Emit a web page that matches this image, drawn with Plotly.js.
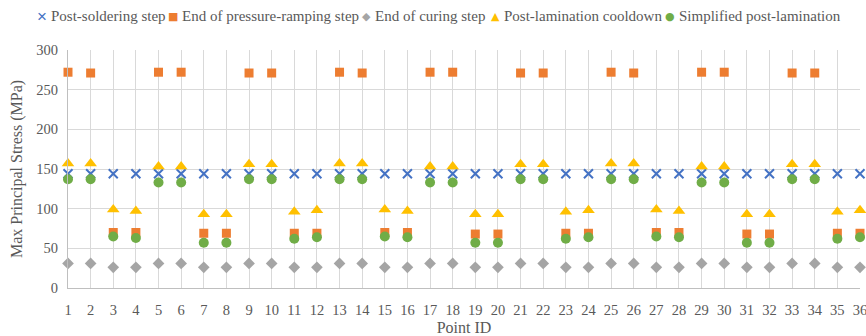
<!DOCTYPE html>
<html>
<head>
<meta charset="utf-8">
<script src="https://cdn.plot.ly/plotly-3.0.1.min.js"></script>
<style>html,body{margin:0;padding:0;background:#fff;}#chart{width:866px;height:336px;}</style>
</head>
<body>
<div id="chart"></div>
<script>
const pointIds = Array.from({length: 36}, (_, i) => i + 1);

const postSoldering = [144,144,144,144,144,144,144,144,144,144,144,144,144,144,144,144,144,144,
                       144,144,144,144,144,144,144,144,144,144,144,144,144,144,144,144,144,144];
const pressureRamping = [272,271,70,70,272,272,69,69,271,271,69,69,
                         272,271,70,70,272,272,68,68,271,271,69,69,
                         272,271,70,70,272,272,68,68,271,271,69,69];
const curing = [31,31,26,26,31,31,26,26,31,31,26,26,
                31,31,26,26,31,31,26,26,31,31,26,26,
                31,31,26,26,31,31,26,26,31,31,26,26];
const cooldown = [157,157,99,97,153,153,93,93,156,156,96,98,
                  157,157,99,97,153,153,93,93,156,156,96,98,
                  157,157,99,97,153,153,93,93,156,156,96,98];
const simplified = [137,137,65,63,133,133,57,57,137,137,62,64,
                    137,137,65,64,133,133,57,57,137,137,62,64,
                    137,137,65,64,133,133,57,57,137,137,62,64];

const seriesNames = ["Post-soldering step","End of pressure-ramping step","End of curing step",
                     "Post-lamination cooldown","Simplified post-lamination"];
const seriesColors = ['#4472C4', '#ED7D31', '#A5A5A5', '#FFC000', '#70AD47'];
const legendGlyphs = ['×', '■', '◆', '▲', '●'];

const traces = [
  {x: pointIds, y: postSoldering, name: seriesNames[0], type: 'scatter', mode: 'markers', cliponaxis: false,
   marker: {symbol: 'x-thin-open', size: 9, color: seriesColors[0], line: {color: seriesColors[0], width: 2}}},
  {x: pointIds, y: pressureRamping, name: seriesNames[1], type: 'scatter', mode: 'markers', cliponaxis: false,
   marker: {symbol: 'square', size: 9, color: seriesColors[1]}},
  {x: pointIds, y: curing, name: seriesNames[2], type: 'scatter', mode: 'markers', cliponaxis: false,
   marker: {symbol: 'diamond', size: 9, color: seriesColors[2]}},
  {x: pointIds, y: cooldown, name: seriesNames[3], type: 'scatter', mode: 'markers', cliponaxis: false,
   marker: {symbol: 'triangle-up', size: 11, color: seriesColors[3]}},
  {x: pointIds, y: simplified, name: seriesNames[4], type: 'scatter', mode: 'markers', cliponaxis: false,
   marker: {symbol: 'circle', size: 10, color: seriesColors[4]}}
];

const fontFam = 'Liberation Serif';
// Legend row (Excel-style compact legend) built as annotations
const plotLeft = 68, plotW = 792, plotTop = 50, plotH = 238;
const legendSymbolPx = [42, 173, 366, 495, 670];
const legendTextPx = [50, 181, 374, 503, 678];
const legendY = 1 + (plotTop - 16) / plotH;
const annotations = [];
seriesNames.forEach((name, i) => {
  annotations.push({xref: 'paper', yref: 'paper', x: (legendSymbolPx[i] - plotLeft) / plotW, y: legendY,
    xanchor: 'center', yanchor: 'middle', showarrow: false, text: legendGlyphs[i], borderpad: 0,
    font: {family: i === 0 ? 'Liberation Sans' : 'DejaVu Sans', size: i === 0 ? 17 : 11, color: seriesColors[i]}});
  annotations.push({xref: 'paper', yref: 'paper', x: (legendTextPx[i] - plotLeft) / plotW, y: legendY,
    xanchor: 'left', yanchor: 'middle', showarrow: false, text: name, borderpad: 0,
    font: {family: fontFam, size: 15, color: '#595959'}});
});

const layout = {
  width: 866, height: 336,
  margin: {l: plotLeft, r: 866 - plotLeft - plotW, t: plotTop, b: 336 - plotTop - plotH},
  paper_bgcolor: '#ffffff', plot_bgcolor: '#ffffff',
  font: {family: fontFam, size: 14, color: '#595959'},
  showlegend: false,
  annotations: annotations,
  xaxis: {range: [1, 36], tickmode: 'array', tickvals: pointIds, ticktext: pointIds.map(String),
          showgrid: true, gridcolor: '#D9D9D9', gridwidth: 1, zeroline: false,
          showline: true, linecolor: '#BFBFBF', ticks: 'outside', ticklen: 9, tickcolor: 'rgba(0,0,0,0)',
          ticklabeloverflow: 'allow',
          tickfont: {family: fontFam, size: 14.5, color: '#595959'},
          title: {text: 'Point ID', font: {family: fontFam, size: 16, color: '#595959'}, standoff: 5}},
  yaxis: {range: [0, 300], tickvals: [0,50,100,150,200,250,300],
          showgrid: true, gridcolor: '#D9D9D9', gridwidth: 1, zeroline: false,
          showline: true, linecolor: '#BFBFBF', ticks: 'outside', ticklen: 6, tickcolor: 'rgba(0,0,0,0)',
          tickfont: {family: fontFam, size: 14.5, color: '#595959'},
          title: {text: 'Max Principal Stress (MPa)', font: {family: fontFam, size: 16, color: '#595959'}, standoff: 9}}
};

Plotly.newPlot('chart', traces, layout, {displayModeBar: false, staticPlot: true});
</script>
</body>
</html>
